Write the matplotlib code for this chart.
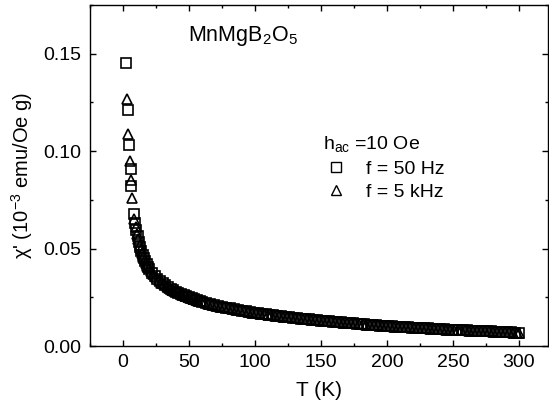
import matplotlib
matplotlib.use("Agg")
import matplotlib.pyplot as plt
from matplotlib.ticker import MultipleLocator

plt.rcParams['font.family'] = ['Liberation Sans', 'DejaVu Sans']
plt.rcParams['mathtext.fontset'] = 'custom'
plt.rcParams['mathtext.rm'] = 'Liberation Sans'
plt.rcParams['mathtext.it'] = 'Liberation Sans:italic'

# low temperature points, read one by one
T_50hz_low = [2.3, 3.5, 4.2, 5.8, 6.3]
chi_50hz_low = [0.145, 0.121, 0.103, 0.091, 0.082]
T_5khz_low = [3.0, 3.8, 5.0, 6.0, 7.0]
chi_5khz_low = [0.127, 0.109, 0.095, 0.085, 0.076]

# dense part of the curve (both frequencies sit on top of each other)
T_dense = [8, 9, 10, 11, 12, 13, 14, 15, 16, 17, 18, 19, 20,
           22, 24, 26, 28, 30, 32, 34, 36, 38, 40, 42, 44, 46, 48, 50,
           52, 54, 56, 58, 60,
           63, 66, 69, 72, 75, 78, 81, 84, 87, 90, 93, 96, 99, 102, 105,
           108, 111, 114, 117, 120, 123, 126, 129, 132, 135, 138, 141, 144,
           147, 150, 153, 156, 159, 162, 165, 168, 171, 174, 177, 180, 183,
           186, 189, 192, 195, 198, 201, 204, 207, 210, 213, 216, 219, 222,
           225, 228, 231, 234, 237, 240, 243, 246, 249, 252, 255, 258, 261,
           264, 267, 270, 273, 276, 279, 282, 285, 288, 291, 294, 297, 300]
chi_50hz = [0.0680, 0.0634, 0.0596, 0.0563, 0.0535, 0.0510, 0.0488, 0.0468,
            0.0450, 0.0434, 0.0420, 0.0407, 0.0395,
            0.0377, 0.0361, 0.0346, 0.0333, 0.0322, 0.0312, 0.0302, 0.0294,
            0.0287, 0.0280, 0.0274, 0.0268, 0.0262, 0.0256, 0.0251,
            0.0246, 0.0241, 0.0236, 0.0231, 0.0227,
            0.0221, 0.0216, 0.0211, 0.0206, 0.0201, 0.0197, 0.0193, 0.0189,
            0.0185, 0.0181, 0.0178, 0.0174, 0.0171, 0.0168, 0.0166,
            0.0163, 0.0160, 0.0157, 0.0155, 0.0152, 0.0150, 0.0148, 0.0146,
            0.0144, 0.0141, 0.0139, 0.0137, 0.0135,
            0.0133, 0.0131, 0.0129, 0.0128, 0.0126, 0.0124, 0.0122, 0.0120,
            0.0118, 0.0117, 0.0115, 0.0113, 0.0111,
            0.0110, 0.0108, 0.0107, 0.0105, 0.0104, 0.0103, 0.0101, 0.0100,
            0.0099, 0.0098, 0.0097, 0.0095, 0.0094,
            0.0093, 0.0092, 0.0091, 0.0089, 0.0088, 0.0087, 0.0086, 0.0085,
            0.0084, 0.0083, 0.0082, 0.0081, 0.0080,
            0.0079, 0.0078, 0.0077, 0.0077, 0.0076, 0.0075, 0.0074, 0.0073,
            0.0072, 0.0071, 0.0070, 0.0069, 0.0068]

# 5 kHz sweep, taken in between the 50 Hz temperatures
T_5khz_dense = [8.5, 9.5, 10.5, 11.5, 12.5, 13.5, 14.5, 15.5, 16.5, 17.5,
                18.5, 19.5, 21, 23, 25, 27, 29, 31, 33, 35, 37, 39, 41, 43,
                45, 47, 49, 51, 53, 55, 57, 59, 61.5,
                64.5, 67.5, 70.5, 73.5, 76.5, 79.5, 82.5, 85.5, 88.5, 91.5,
                94.5, 97.5, 100.5, 103.5, 106.5, 109.5, 112.5, 115.5, 118.5,
                121.5, 124.5, 127.5, 130.5, 133.5, 136.5, 139.5, 142.5,
                145.5, 148.5, 151.5, 154.5, 157.5, 160.5, 163.5, 166.5,
                169.5, 172.5, 175.5, 178.5, 181.5, 184.5, 187.5, 190.5,
                193.5, 196.5, 199.5, 202.5, 205.5, 208.5, 211.5, 214.5,
                217.5, 220.5, 223.5, 226.5, 229.5, 232.5, 235.5, 238.5,
                241.5, 244.5, 247.5, 250.5, 253.5, 256.5, 259.5, 262.5,
                265.5, 268.5, 271.5, 274.5, 277.5, 280.5, 283.5, 286.5,
                289.5, 292.5, 295.5, 298.5, 300]
chi_5khz = [0.0652, 0.0612, 0.0577, 0.0547, 0.0520, 0.0497, 0.0476, 0.0457,
            0.0440, 0.0425, 0.0412, 0.0400, 0.0385,
            0.0368, 0.0352, 0.0338, 0.0326, 0.0316, 0.0306, 0.0297, 0.0290,
            0.0283, 0.0276, 0.0270, 0.0264, 0.0258, 0.0253,
            0.0248, 0.0243, 0.0238, 0.0233, 0.0229, 0.0224,
            0.0218, 0.0213, 0.0208, 0.0203, 0.0199, 0.0195, 0.0191, 0.0187,
            0.0183, 0.0179, 0.0176, 0.0172, 0.0169, 0.0167, 0.0164,
            0.0161, 0.0158, 0.0156, 0.0153, 0.0151, 0.0149, 0.0147, 0.0145,
            0.0142, 0.0140, 0.0138, 0.0136, 0.0134,
            0.0132, 0.0130, 0.0128, 0.0127, 0.0125, 0.0123, 0.0121, 0.0119,
            0.0117, 0.0116, 0.0114, 0.0112, 0.0110,
            0.0109, 0.0107, 0.0106, 0.0104, 0.0103, 0.0102, 0.0100, 0.0099,
            0.0098, 0.0097, 0.0096, 0.0094, 0.0093,
            0.0092, 0.0091, 0.0090, 0.0088, 0.0087, 0.0086, 0.0085, 0.0084,
            0.0083, 0.0082, 0.0081, 0.0080, 0.0079,
            0.0078, 0.0077, 0.0077, 0.0076, 0.0075, 0.0074, 0.0073, 0.0072,
            0.0071, 0.0070, 0.0069, 0.0068, 0.0068]

T_50hz = T_50hz_low + T_dense
chi50 = chi_50hz_low + chi_50hz
T_5khz = T_5khz_low + T_5khz_dense
chi5 = chi_5khz_low + chi_5khz

fig = plt.figure(figsize=(5.49, 4.13), dpi=100)
ax = fig.add_axes([0.164, 0.162, 0.834, 0.826])

ax.plot(T_50hz, chi50, ls='none', marker='s', ms=6.5, mfc='none', mec='black',
        mew=1.2, label='f = 50 Hz')
ax.plot(T_5khz, chi5, ls='none', marker='^', ms=7.5, mfc='none', mec='black',
        mew=1.2, label='f = 5 kHz')

ax.set_xlim(-25, 322)
ax.set_ylim(0, 0.175)
ax.xaxis.set_major_locator(MultipleLocator(50))
ax.xaxis.set_minor_locator(MultipleLocator(25))
ax.yaxis.set_major_locator(MultipleLocator(0.05))
ax.yaxis.set_minor_locator(MultipleLocator(0.025))
ax.yaxis.set_major_formatter(plt.FormatStrFormatter('%.2f'))
ax.tick_params(which='both', direction='in', top=True, right=True,
               labelsize=14, width=1)
ax.tick_params(which='major', length=4.5, pad=6)
ax.tick_params(which='minor', length=2.5)
for s in ax.spines.values():
    s.set_linewidth(1)

ax.set_xlabel('T (K)', fontsize=15, labelpad=7)
ax.set_ylabel(r"χ' (10$^{-3}$ emu/Oe g)", fontsize=14.5, labelpad=6)

ax.text(0.214, 0.893, r'MnMgB$_\mathregular{2}$O$_\mathregular{5}$',
        transform=ax.transAxes, fontsize=15.5, va='baseline')

leg = ax.legend(title=r'h$_\mathregular{ac}$ =10 Oe', loc='upper left',
                bbox_to_anchor=(0.487, 0.65), frameon=False, fontsize=14,
                title_fontsize=14, alignment='left', handletextpad=0.8,
                borderpad=0, labelspacing=0.3, handlelength=1.4)
for h in leg.legend_handles:
    h.set_markeredgewidth(1.0)

fig.savefig('out.png', dpi=100)
